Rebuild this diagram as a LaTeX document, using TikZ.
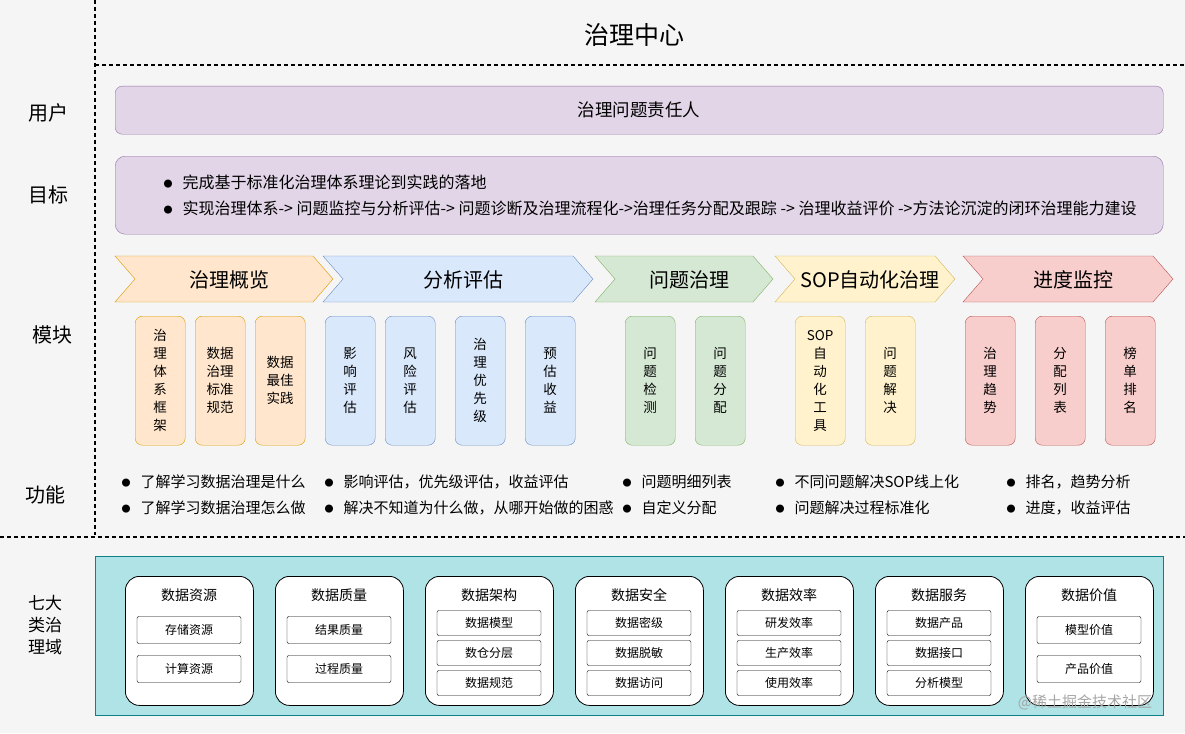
\documentclass[tikz,border=0pt]{standalone}
\usepackage{fontspec}
\setmainfont{Noto Sans CJK SC}
\begin{document}
\begin{tikzpicture}[x=1pt,y=-1pt,
  fs/.style={font=\fontsize{14}{18}\selectfont},
  lab/.style={font=\fontsize{20}{22}\selectfont},
  vbox/.style={draw=#1,rounded corners=7pt,minimum width=50pt,minimum height=129pt,anchor=north west,align=center,font=\fontsize{13.5}{18}\selectfont,inner sep=0pt},
  dom/.style={draw=black,fill=white,rounded corners=14pt,minimum width=128pt,minimum height=129pt,anchor=north west,line width=0.8pt},
  item/.style={draw=black,fill=white,rounded corners=2pt,minimum width=104pt,font=\fontsize{12}{14}\selectfont},
  dl/.style={dashed,line width=1.2pt,dash pattern=on 4pt off 3pt}]
\definecolor{pf}{HTML}{E1D5E7}\definecolor{pd}{HTML}{9673A6}
\definecolor{of}{HTML}{FFE6CC}\definecolor{od}{HTML}{D79B00}
\definecolor{bf}{HTML}{DAE8FC}\definecolor{bd}{HTML}{6C8EBF}
\definecolor{gf}{HTML}{D5E8D4}\definecolor{gd}{HTML}{82B366}
\definecolor{yf}{HTML}{FFF2CC}\definecolor{yd}{HTML}{D6B656}
\definecolor{rf}{HTML}{F8CECC}\definecolor{rd}{HTML}{B85450}
\definecolor{tf}{HTML}{B0E3E6}\definecolor{td}{HTML}{0E8088}
\definecolor{bg}{HTML}{F5F5F5}
\newcommand{\bul}{\raisebox{1pt}{\fontsize{9}{9}\selectfont●}}
\fill[bg] (0,0) rectangle (1185,733);
\useasboundingbox (0,0) rectangle (1185,733);
\draw[dl] (95,0) -- (95,535);
\draw[dl] (95,65) -- (1185,65);
\draw[dl] (0,537) -- (1185,537);
\node[font=\fontsize{25}{28}\selectfont] (title) at (634,35) {治理中心};
\node[lab] (l1) at (48,113) {用户};
\node[lab] (l2) at (48,195) {目标};
\node[lab] (l3) at (52,335) {模块};
\node[lab] (l4) at (45,495) {功能};
\node[lab,align=center,font=\fontsize{17}{22}\selectfont] (l5) at (45,625) {七大\\类治\\理域};
% user
\node[draw=pd,fill=pf,rounded corners=7pt,minimum width=1048pt,minimum height=48pt,anchor=north west] (user) at (115,86) {};
\node[font=\fontsize{17.5}{20}\selectfont] (ut) at (user.center) {治理问题责任人};
\node[draw=pd,fill=pf,rounded corners=10pt,minimum width=1048pt,minimum height=78pt,anchor=north west] (goal) at (115,156) {};
\node[font=\fontsize{16}{18}\selectfont,anchor=west] (g1) at (160,182) {\bul\hspace{10pt}完成基于标准化治理体系理论到实践的落地};
\node[font=\fontsize{16}{18}\selectfont,anchor=west] (g2) at (160,208) {\bul\hspace{10pt}实现治理体系-> 问题监控与分析评估-> 问题诊断及治理流程化->治理任务分配及跟踪 -> 治理收益评价 ->方法论沉淀的闭环治理能力建设};
% chevrons
\newcommand{\chev}[6]{\draw[draw=#4,fill=#3] (#1,256) -- ({#2-20},256) -- (#2,279) -- ({#2-20},302) -- (#1,302) -- ({#1+20},279) -- cycle;
  \node[lab] (#6) at ({(#1+#2)/2+5},280) {#5};}
\chev{115}{333}{of}{od}{治理概览}{c1}
\chev{323}{593}{bf}{bd}{分析评估}{c2}
\chev{595}{773}{gf}{gd}{问题治理}{c3}
\chev{775}{955}{yf}{yd}{SOP自动化治理}{c4}
\chev{963}{1173}{rf}{rd}{进度监控}{c5}
% vertical boxes
\node[vbox=od,fill=of] (o1) at (135,316) {治\\理\\体\\系\\框\\架};
\node[vbox=od,fill=of] (o2) at (195,316) {数据\\治理\\标准\\规范};
\node[vbox=od,fill=of] (o3) at (255,316) {数据\\最佳\\实践};
\node[vbox=bd,fill=bf] (b1) at (325,316) {影\\响\\评\\估};
\node[vbox=bd,fill=bf] (b2) at (385,316) {风\\险\\评\\估};
\node[vbox=bd,fill=bf] (b3) at (455,316) {治\\理\\优\\先\\级};
\node[vbox=bd,fill=bf] (b4) at (525,316) {预\\估\\收\\益};
\node[vbox=gd,fill=gf] (e1) at (625,316) {问\\题\\检\\测};
\node[vbox=gd,fill=gf] (e2) at (695,316) {问\\题\\分\\配};
\node[vbox=yd,fill=yf] (y1) at (795,316) {SOP\\自\\动\\化\\工\\具};
\node[vbox=yd,fill=yf] (y2) at (865,316) {问\\题\\解\\决};
\node[vbox=rd,fill=rf] (r1) at (965,316) {治\\理\\趋\\势};
\node[vbox=rd,fill=rf] (r2) at (1035,316) {分\\配\\列\\表};
\node[vbox=rd,fill=rf] (r3) at (1105,316) {榜\\单\\排\\名};
% functions
\newcommand{\fn}[4]{\node[font=\fontsize{15}{18}\selectfont,anchor=west] (#4) at (#1,#2) {\bul\hspace{10pt}#3};}
\fn{118}{482}{了解学习数据治理是什么}{f1}
\fn{118}{508}{了解学习数据治理怎么做}{f2}
\fn{321}{482}{影响评估，优先级评估，收益评估}{f3}
\fn{321}{508}{解决不知道为什么做，从哪开始做的困惑}{f4}
\fn{619}{482}{问题明细列表}{f5}
\fn{619}{508}{自定义分配}{f6}
\fn{772}{482}{不同问题解决SOP线上化}{f7}
\fn{772}{508}{问题解决过程标准化}{f8}
\fn{1003}{482}{排名，趋势分析}{f9}
\fn{1003}{508}{进度，收益评估}{f10}
% domains
\node[draw=td,fill=tf,minimum width=1068pt,minimum height=159pt,anchor=north west] (dombg) at (95,556) {};
\newcommand{\dtwo}[5]{\node[dom] (#5) at (#1,576) {};
 \node[fs] at ({#1+64},595) {#2};
 \node[item,minimum height=27pt] at ({#1+64},630) {#3};
 \node[item,minimum height=27pt] at ({#1+64},669) {#4};}
\newcommand{\dthree}[6]{\node[dom] (#6) at (#1,576) {};
 \node[fs] at ({#1+64},595) {#2};
 \node[item,minimum height=25pt] at ({#1+64},623) {#3};
 \node[item,minimum height=25pt] at ({#1+64},653) {#4};
 \node[item,minimum height=25pt] at ({#1+64},683) {#5};}
\dtwo{125}{数据资源}{存储资源}{计算资源}{d1}
\dtwo{275}{数据质量}{结果质量}{过程质量}{d2}
\dthree{425}{数据架构}{数据模型}{数仓分层}{数据规范}{d3}
\dthree{575}{数据安全}{数据密级}{数据脱敏}{数据访问}{d4}
\dthree{725}{数据效率}{研发效率}{生产效率}{使用效率}{d5}
\dthree{875}{数据服务}{数据产品}{数据接口}{分析模型}{d6}
\dtwo{1025}{数据价值}{模型价值}{产品价值}{d7}
\node[font=\fontsize{15}{18}\selectfont,text=black!35] (wm) at (1085,702) {@稀土掘金技术社区};
\end{tikzpicture}
\end{document}
